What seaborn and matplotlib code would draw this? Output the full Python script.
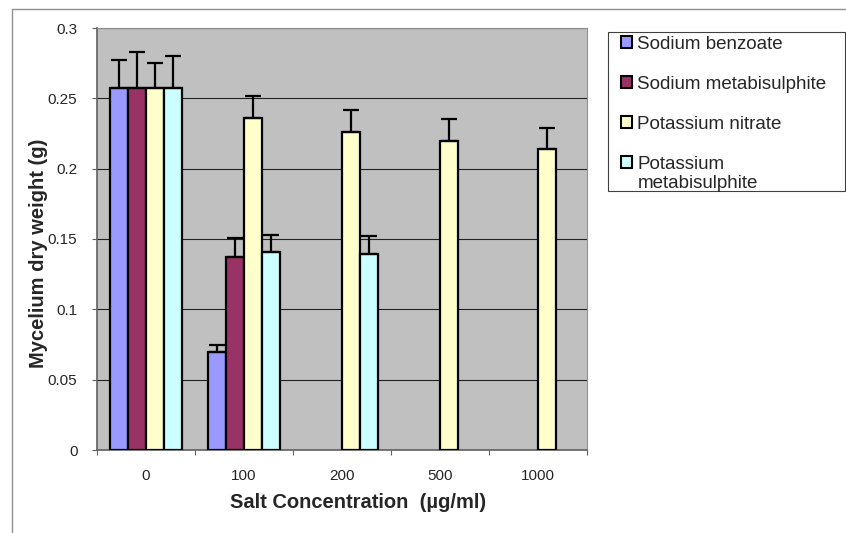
import matplotlib
matplotlib.use("Agg")
import matplotlib.pyplot as plt
from matplotlib.lines import Line2D
from matplotlib.patches import Rectangle
import seaborn as sns
import pandas as pd
import numpy as np

### Data

concentrations = ["0", "100", "200", "500", "1000"]
salts = ["Sodium benzoate", "Sodium metabisulphite", "Potassium nitrate", "Potassium metabisulphite"]
# last legend label wraps onto a second line in the original
legendLabels = ["Sodium benzoate", "Sodium metabisulphite", "Potassium nitrate", "Potassium"]
legendWrap = "metabisulphite"
colors = ["#9999FF", "#993366", "#FFFFCC", "#CCFFFF"]

# NaN = no bar at that concentration
sodiumBenzoate          = [0.257, 0.070, np.nan, np.nan, np.nan]
sodiumMetabisulphite    = [0.257, 0.137, np.nan, np.nan, np.nan]
potassiumNitrate        = [0.257, 0.236, 0.226, 0.220, 0.214]
potassiumMetabisulphite = [0.257, 0.141, 0.139, np.nan, np.nan]

sodiumBenzoateErr          = [0.020, 0.005, np.nan, np.nan, np.nan]
sodiumMetabisulphiteErr    = [0.026, 0.014, np.nan, np.nan, np.nan]
potassiumNitrateErr        = [0.018, 0.016, 0.016, 0.015, 0.015]
potassiumMetabisulphiteErr = [0.023, 0.012, 0.013, np.nan, np.nan]

####

values = [sodiumBenzoate, sodiumMetabisulphite, potassiumNitrate, potassiumMetabisulphite]
errors = [sodiumBenzoateErr, sodiumMetabisulphiteErr, potassiumNitrateErr, potassiumMetabisulphiteErr]

rows = []
for salt, vals, errs in zip(salts, values, errors):
  for conc, v, e in zip(concentrations, vals, errs):
    rows.append({"conc": conc, "salt": salt, "weight": v, "err": e})
df = pd.DataFrame(rows).dropna()

sns.set_style("white")
plt.rcParams['font.family'] = ['Liberation Sans', 'DejaVu Sans']

fig = plt.figure(figsize=(8.46, 5.33), dpi=100)
ax = fig.add_axes([97/846, 1 - 450/533, 490/846, 422/533])
ax.set_facecolor("#C0C0C0")

sns.barplot(data=df, x="conc", y="weight", hue="salt", order=concentrations, hue_order=salts,
            palette=colors, saturation=1, errorbar=None, width=0.73, gap=0, edgecolor="black",
            linewidth=1.6, legend=False, ax=ax, zorder=3)

# upper-only error bars, Excel style
for container, salt in zip(ax.containers, salts):
  sub = df[df["salt"] == salt].set_index("conc").reindex(concentrations).dropna()
  xs = [b.get_x() + b.get_width() / 2 for b in container]
  hs = [b.get_height() for b in container]
  ax.errorbar(xs, hs, yerr=[np.zeros(len(sub)), sub["err"].to_numpy()], fmt="none",
              ecolor="black", elinewidth=1.6, capsize=6, capthick=1.6, zorder=4)

ax.set_ylim(0, 0.3)
ax.set_xlim(-0.5, len(concentrations) - 0.5)
ax.set_yticks(np.arange(0, 0.301, 0.05))
ax.set_yticklabels(["0", "0.05", "0.1", "0.15", "0.2", "0.25", "0.3"], fontsize=11)
ax.yaxis.grid(True, color="#222222", linewidth=0.8)
ax.set_axisbelow(True)

ax.set_xticks(np.arange(-0.5, len(concentrations), 1.0))
ax.set_xticklabels([])
ax.set_xticks(np.arange(len(concentrations)), minor=True)
ax.set_xticklabels(concentrations, minor=True, fontsize=11)
ax.tick_params(axis="x", which="major", direction="out", length=3.6, color="#606060", bottom=True)
ax.tick_params(axis="x", which="minor", length=0, pad=14)
ax.tick_params(axis="y", direction="out", length=3.6, color="#606060", left=True, pad=10.5)

for side in ["top", "right"]:
  ax.spines[side].set_color("#909090")
for side in ["left", "bottom"]:
  ax.spines[side].set_color("#606060")
  ax.spines[side].set_linewidth(1.2)

ax.set_xlabel("Salt Concentration  (µg/ml)", fontsize=14.5, fontweight="bold", va="top")
ax.set_ylabel("Mycelium dry weight (g)", fontsize=14.5, fontweight="bold")
ax.xaxis.set_label_coords((358 - 97) / 490, (450 - 493) / 422)
ax.yaxis.set_label_coords((48 - 97) / 490, (450 - 253) / 422)

# legend box (text runs into the bottom edge, as in the original)
fig.add_artist(Rectangle((608/846, 1 - 191/533), 237/846, 159/533, transform=fig.transFigure,
                         facecolor="white", edgecolor="#404040", linewidth=0.8, zorder=1))
handles = [Rectangle((0, 0), 1, 1, facecolor=c, edgecolor="black", linewidth=1.5) for c in colors]
leg = fig.legend(handles, legendLabels, loc="upper left", bbox_to_anchor=(621/846, 1 - 36/533),
                 fontsize=13.5, frameon=False, handlelength=0.6, handleheight=0.6,
                 handletextpad=0.27, labelspacing=1.22, borderpad=0, borderaxespad=0)
leg.set_zorder(2)
fig.text(638/846, 1 - 183/533, legendWrap, fontsize=13.5, ha="left", va="center", zorder=2)

# chart area border
fig.add_artist(Line2D([12/846, 1], [1 - 9/533, 1 - 9/533], color="#909090", linewidth=1))
fig.add_artist(Line2D([12/846, 12/846], [0, 1 - 9/533], color="#909090", linewidth=1))

fig.savefig("out.png", dpi=100)
